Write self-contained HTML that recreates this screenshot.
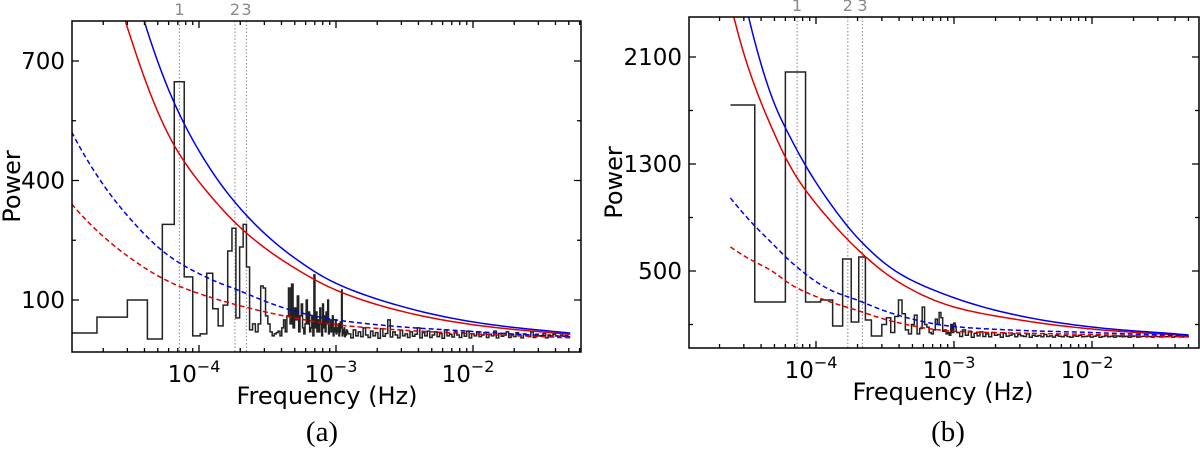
<!DOCTYPE html>
<html><head><meta charset="utf-8">
<style>
html,body{margin:0;padding:0;background:#fff;}
svg{display:block;}
text{font-family:"DejaVu Sans","Liberation Sans",sans-serif;}
.cap{font-family:"Liberation Serif",serif;font-size:29px;}
</style></head>
<body>
<svg id="fig" width="1200" height="451" viewBox="0 0 1200 451">
<defs>
<clipPath id="clipA"><rect x="72" y="21" width="509" height="331"/></clipPath>
<clipPath id="clipB"><rect x="689" y="17" width="510" height="331"/></clipPath>
</defs>
<g id="panelA"></g>
<g id="panelB"></g>
<text class="cap" x="322" y="441" text-anchor="middle">(a)</text>
<text class="cap" x="948" y="441" text-anchor="middle">(b)</text>
</svg>
<script>
// ---------- data: panel (a) ----------
const dfA = 1.2e-5;
const powersA = [17,57,100,2,290,648,158,10,15,167,78,35,87,223,280,55,233,290,183,25,
40,20,40,135,130,60,40,20,10,15,18,22,10,30,50,20,60,130,40,140,
30,80,50,110,20,60,90,30,15,40,100,40,70,20,30,60,10,163,30,70,
20,50,20,80,40,10,90,30,60,20,70,40,100,15,30,50,20,40,60,10,
30,20,50,15,30,20,40,10,20,45,30,125,10,25,15,30,8,20,12,25];
const bandA_range = [-2.91, -1.29];
const bandA = [15,5,25,10,20,8,30,12,6,22,10,18,4,28,9,16,50,7,20,12,5,24,10,15,6,20,9,14,30,5,18,10,22,6,12,20,8,16,4,25,10,14,7,20,12,6,18,9,22,5,15,10,20,8,12,18,6,14,10,22,5,16,9,12,20,6,14,8,18,10,5,15,12,8,20,6,14,10,9,16,5,12,8,14,10,6,12,9,11,8];
const curveA_logf = [-4.93,-4.7,-4.5,-4.2,-3.9,-3.66,-3.3,-3,-2.5,-2,-1.5,-1.29];
const redSolidA  = [1400,1000,760,500,355,270,180,125,70,38,20,14];
const blueSolidA = [1700,1220,920,610,420,315,205,142,82,45,24,17];
const blueDashA  = [522,390,303,206,150,117,72,50,32,21,11,7];
const redDashA   = [341,260,205,143,105,82,55,38,24,15,8,5];
const yTicksA = [100,400,700];
const yMinorA = [250,550];
const markFreqsA = [7.2e-5, 1.83e-4, 2.22e-4];
// ---------- data: panel (b) ----------
const dfB = 2.4e-5;
const powersB = [1741,268,1988,268,283,89,590,119,605,134,14,14,100,150,40,160,283,180,60,30,100,170,30,70,230,100,80,40,30,60,140,100,190,150,50,60,30,40,20,100,40,110];
const bandB_range = [-2.98, -1.297];
const bandB = [40,10,60,20,50,5,35,15,45,10,30,8,40,20,25,5,35,12,20,30,8,25,15,10,30,5,20,12,18,8,25,10,15,6,20,12,8,18,10,5,15,12,20,8,10,14,6,12,18,5,10,15,8,12,6,14,10,8,12,5,10,14,6,9,12,8,10,6,11,9,7,10,8,12,6,9,10,7,8,10];
const curveB_logf = [-4.62,-4.5,-4.32,-4.15,-3.9,-3.67,-3.39,-3,-2.5,-2,-1.5,-1.3];
const redSolidB  = [2500,2050,1569,1218,880,634,410,231,130,66,30,16];
const blueSolidB = [3100,2450,1801,1427,1010,717,478,300,160,81,38,22];
const blueDashB  = [1046,900,709,540,360,270,165,85,55,40,22,14];
const redDashB   = [680,600,500,380,270,195,110,50,35,25,12,7];
const yTicksB = [500,1300,2100];
const yMinorB = [100,900,1700];
const markFreqsB = [7.3e-5, 1.7e-4, 2.17e-4];
const xDecades = [-4,-3,-2];

const NS = "http://www.w3.org/2000/svg";
function mk(tag, attrs, parent){const e=document.createElementNS(NS,tag);for(const k in attrs)e.setAttribute(k,attrs[k]);parent.appendChild(e);return e;}

function smoothPath(logf, vals, X, Y){
  const lv = vals.map(v=>Math.log10(Math.max(v,0.5)));
  const n = logf.length;
  let d = "";
  for(let i=0;i<n-1;i++){
    const i0=Math.max(0,i-1), i3=Math.min(n-1,i+2);
    for(let s=0;s<=12;s++){
      if(i>0 && s===0) continue;
      const t=s/12, t2=t*t, t3=t2*t;
      const cr=(p0,p1,p2,p3)=>0.5*((2*p1)+(-p0+p2)*t+(2*p0-5*p1+4*p2-p3)*t2+(-p0+3*p1-3*p2+p3)*t3);
      const lf = cr(logf[i0],logf[i],logf[i+1],logf[i3]);
      const l = cr(lv[i0],lv[i],lv[i+1],lv[i3]);
      const x=X(lf), y=Y(Math.pow(10,l));
      d += (d===""?"M":"L")+x.toFixed(2)+","+y.toFixed(2);
    }
  }
  return d;
}

function drawPanel(cfg){
  const g = document.getElementById(cfg.id);
  const X = lf => cfg.x4 + cfg.dec*(lf+4);
  const Y = v => cfg.yRef - (v-cfg.vRef)*cfg.pxPer;
  const L=cfg.box[0], T=cfg.box[1], R=cfg.box[2], B=cfg.box[3];
  cfg.marks.forEach((f,i)=>{
    const x = X(Math.log10(f));
    const ln = mk("line",{x1:x,y1:T,x2:x,y2:B,stroke:"#999","stroke-width":1.2,"stroke-dasharray":"1.5,2"},g);
    
    
    const t = mk("text",{x:x,y:cfg.markY,"text-anchor":"middle","font-size":"16",fill:"#888"},g);
    t.textContent = String(i+1);
    
    
  });
  const cg = mk("g",{"clip-path":"url(#"+cfg.clip+")"},g);
  let d="";
  cfg.powers.forEach((p,i)=>{
    const k=i+1;
    const f0 = (cfg.startMid && k===1) ? k*cfg.df : (k-0.5)*cfg.df;
    const f1 = (k+0.5)*cfg.df;
    const x0 = X(Math.log10(f0)), x1 = X(Math.log10(f1)), y=Y(p);
    d += (i===0?"M":"L")+x0.toFixed(2)+","+y.toFixed(2)+"L"+x1.toFixed(2)+","+y.toFixed(2);
  });
  const n=cfg.band.length, a=cfg.bandRange[0], b=cfg.bandRange[1], w=(b-a)/n;
  cfg.band.forEach((p,i)=>{
    const x0=X(a+i*w), x1=X(a+(i+1)*w), y=Y(p);
    d += "L"+x0.toFixed(2)+","+y.toFixed(2)+"L"+x1.toFixed(2)+","+y.toFixed(2);
  });
  const sp = mk("path",{d:d,fill:"none",stroke:"#222","stroke-width":1.5,"stroke-linejoin":"miter"},cg);
  
  
  const curves=[["red-solid-curve",cfg.redSolid,"#e00000",null],["blue-solid-curve",cfg.blueSolid,"#0000ee",null],
                ["blue-dashed-curve",cfg.blueDash,"#0000ee","5,3"],["red-dashed-curve",cfg.redDash,"#e00000","5,3"]];
  curves.forEach(c=>{
    const at={d:smoothPath(cfg.logf,c[1],X,Y),fill:"none",stroke:c[2],"stroke-width":1.5};
    if(c[3]) at["stroke-dasharray"]=c[3];
    const p = mk("path",at,cg);
    
    
  });
  const fr = mk("rect",{x:L,y:T,width:R-L,height:B-T,fill:"none",stroke:"#000","stroke-width":1.5},g);
  
  
  let td="";
  for(let dec=-6; dec<=0; dec++){
    for(let m=1;m<=9;m++){
      const x=X(dec+Math.log10(m));
      if(x<L+0.5||x>R-0.5) continue;
      const len = m===1?7:4;
      td+="M"+x.toFixed(2)+","+B+"v"+(-len)+"M"+x.toFixed(2)+","+T+"v"+len;
    }
  }
  cfg.yTicks.forEach(v=>{const y=Y(v).toFixed(2);td+="M"+L+","+y+"h7M"+R+","+y+"h-7";});
  cfg.yMinor.forEach(v=>{const y=Y(v).toFixed(2);td+="M"+L+","+y+"h4M"+R+","+y+"h-4";});
  const tk = mk("path",{d:td,stroke:"#000","stroke-width":1.3,fill:"none"},g);
  
  
  xDecades.forEach(e=>{
    const t = mk("text",{x:X(e)-5,y:B+30,"text-anchor":"middle","font-size":"23"},g);
    t.textContent="10";
    const s = mk("tspan",{dy:"-10","font-size":"16"},t);
    s.textContent="\u2212"+Math.abs(e);
    
    
  });
  cfg.yTicks.forEach(v=>{
    const t = mk("text",{x:L-7,y:Y(v)+8,"text-anchor":"end","font-size":"23"},g);
    t.textContent=String(v);
    
    
  });
  const xl = mk("text",{x:cfg.xlabX,y:B+52,"text-anchor":"middle","font-size":"24"},g);
  xl.textContent="Frequency (Hz)";
  
  
  const yc=(T+B)/2;
  const yl = mk("text",{x:cfg.ylabX,y:yc,"text-anchor":"middle","font-size":"24",transform:"rotate(-90 "+cfg.ylabX+" "+yc+")"},g);
  yl.textContent="Power";
  
  
}

drawPanel({id:"panelA",clip:"clipA",box:[72,21,581,352],x4:199,dec:137,yRef:300,vRef:100,pxPer:119.5/300,
  df:dfA,powers:powersA,band:bandA,bandRange:bandA_range,startMid:false,
  logf:curveA_logf,redSolid:redSolidA,blueSolid:blueSolidA,blueDash:blueDashA,redDash:redDashA,
  yTicks:yTicksA,yMinor:yMinorA,marks:markFreqsA,markY:15,xlabX:327,ylabX:20});
drawPanel({id:"panelB",clip:"clipB",box:[689,17,1199,348],x4:816,dec:138,yRef:271,vRef:500,pxPer:107/800,
  df:dfB,powers:powersB,band:bandB,bandRange:bandB_range,startMid:true,
  logf:curveB_logf,redSolid:redSolidB,blueSolid:blueSolidB,blueDash:blueDashB,redDash:redDashB,
  yTicks:yTicksB,yMinor:yMinorB,marks:markFreqsB,markY:11,xlabX:943,ylabX:622});
</script>
</body></html>
